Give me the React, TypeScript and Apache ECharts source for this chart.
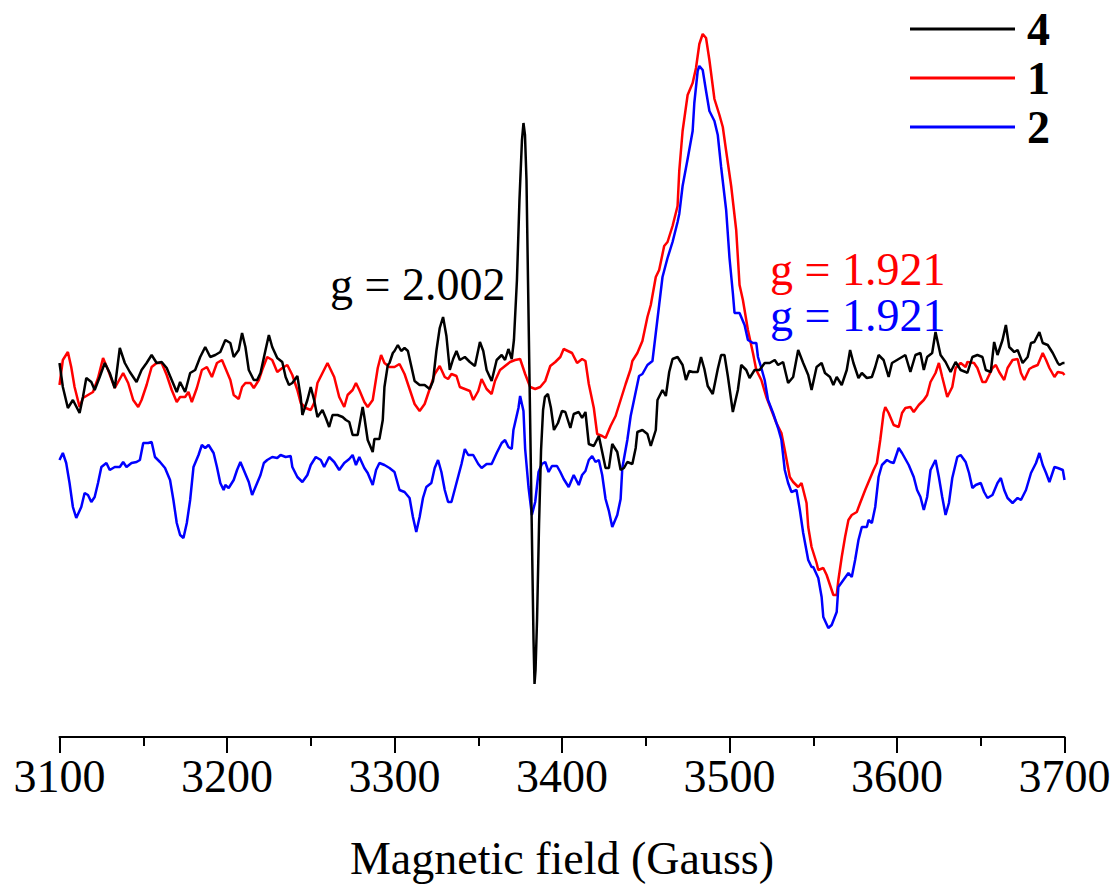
import React, { useEffect, useRef } from "react";
import * as echarts from "echarts";

// EPR spectra: [magnetic field (Gauss), intensity (arb. units)]
const curve4: [number, number][] = [
  [3100,374],[3102,350],[3105,329],[3108,337],[3112,324],[3114,340],[3116,359],[3119,355],[3121,347],[3124,360],
  [3127,374],[3130,364],[3133,349],[3136,389],[3139,374],[3142,365],[3146,355],[3149,367],[3152,374],[3155,382],
  [3158,374],[3161,375],[3164,369],[3167,357],[3170,345],[3172,355],[3175,345],[3178,364],[3181,367],[3184,380],
  [3187,390],[3190,380],[3193,382],[3196,385],[3199,397],
  [3202,394],[3204,380],[3207,387],[3209,404],[3211,390],[3213,367],[3216,357],[3218,357],[3220,364],[3223,387],
  [3225,402],[3227,390],[3230,379],[3233,375],[3235,360],[3237,352],[3239,354],[3242,361],[3244,340],[3245,322],
  [3248,337],[3250,350],[3252,337],[3254,320],[3257,327],[3259,319],[3261,310],[3263,322],[3266,322],[3269,320],
  [3271,317],[3273,315],[3275,302],[3278,302],[3281,330],[3282,320],[3284,297],[3287,285],[3288,298],[3291,298],
  [3293,317],[3294,350],[3296,372],[3297,374],[3299,384],
  [3300,386],[3302,392],[3304,386],[3306,389],[3308,386],[3310,371],[3312,356],[3315,352],[3318,352],[3321,348],
  [3323,356],[3325,386],[3327,409],[3329,420],[3331,401],[3333,367],[3335,378],[3337,386],[3339,377],[3342,380],
  [3345,375],[3348,371],[3351,395],[3353,386],[3355,367],[3358,356],[3361,377],[3364,382],[3366,377],[3368,388],
  [3370,378],
  [3371.3,397],[3373.1,457],[3374.6,537],[3376.1,597],[3377.0,614],[3377.9,602],[3378.8,557],[3379.7,457],
  [3380.9,326],[3382.1,194],[3383.0,97],[3383.6,53],[3384.2,67],[3385.1,117],[3386.3,213],[3387.5,287],
  [3388.7,327],[3389.8,340],[3391.6,343],[3393.4,329],[3395.2,307],[3397.6,314],[3400.0,326],
  [3402,325],[3405,309],[3407,323],[3410,325],[3412,319],[3414,325],[3416,293],[3419,291],[3422,301],[3424,285],
  [3426,269],[3428,269],[3430,293],[3433,285],[3435,267],[3437,269],[3439,275],[3442,273],[3444,289],[3445,305],
  [3448,307],[3451,303],[3453,291],[3456,307],[3457,337],[3460,347],[3462,341],[3464,365],[3466,378],[3469,380],
  [3472,372],[3474,357],[3476,366],[3478,365],[3481,365],[3483,380],[3485,368],[3487,351],[3490,343],[3493,368],
  [3495,382],[3497,382],[3499,361],[3502,325],
  [3505,347],[3507,372],[3510,367],[3512,359],[3515,367],[3518,367],[3521,374],[3524,374],[3527,377],[3529,372],
  [3532,375],[3535,354],[3538,360],[3541,387],[3544,374],[3547,362],[3549,347],[3552,370],[3555,374],[3557,364],
  [3560,360],[3562,352],[3564,360],[3567,352],[3570,367],[3572,387],[3574,374],[3577,359],[3579,364],[3582,359],
  [3585,360],[3587,370],[3589,382],[3592,377],[3595,360],[3597,374],[3600,377],
  [3605,382],[3608,365],[3611,382],[3614,384],[3616,367],[3618,380],[3621,384],[3623,405],[3626,382],[3629,375],
  [3632,365],[3635,375],[3638,367],[3641,365],[3642,364],[3645,380],[3648,382],[3651,380],[3653,367],[3656,365],
  [3658,395],[3660,382],[3663,397],[3665,412],[3667,390],[3670,385],[3672,387],[3675,374],[3678,380],[3680,394],
  [3682,395],[3685,405],[3687,394],[3690,392],[3693,384],[3696,374],[3697,372],[3699,374],[3700,374]
];

const curve1: [number, number][] = [
  [3100,352],[3102,377],[3105,385],[3107,370],[3109,350],[3112,330],[3114,339],[3117,342],[3120,345],[3123,359],
  [3126,379],[3129,367],[3133,349],[3135,355],[3138,364],[3141,354],[3144,337],[3147,330],[3149,337],[3152,352],
  [3155,370],[3158,374],[3161,374],[3164,362],[3167,347],[3170,335],[3172,340],[3175,340],[3177,345],[3179,335],
  [3182,349],[3185,367],[3188,370],[3191,360],[3194,374],[3197,377],[3199,369],
  [3202,357],[3204,342],[3207,338],[3209,350],[3211,354],[3214,354],[3216,349],[3219,357],[3221,367],[3224,380],
  [3227,377],[3230,365],[3233,369],[3236,372],[3239,362],[3242,347],[3244,334],[3247,329],[3250,327],[3252,334],
  [3254,354],[3257,364],[3260,374],[3262,367],[3264,360],[3267,340],[3270,330],[3272,342],[3275,347],[3277,354],
  [3279,347],[3282,335],[3284,330],[3287,337],[3290,369],[3292,382],[3294,374],[3297,370],[3300,370],
  [3303,373],[3306,363],[3309,348],[3312,333],[3315,326],[3318,333],[3321,348],[3324,363],[3327,371],[3330,360],
  [3332,358],[3334,363],[3337,361],[3339,350],[3342,348],[3345,346],[3347,337],[3350,346],[3352,358],[3355,348],
  [3358,343],[3360,356],[3363,367],[3366,371],[3369,375],[3372,377],[3375,378],[3378,363],[3381,350],[3384,348],
  [3387,350],[3390,356],[3393,371],[3396,375],[3399,380],[3401,388],
  [3406,384],[3409,374],[3412,378],[3414,376],[3416,353],[3419,329],[3421,303],[3424,301],[3426,299],[3429,311],
  [3432,321],[3435,337],[3438,353],[3441,368],[3442,376],[3445,384],[3448,396],[3451,420],[3453,432],[3456,460],
  [3458,467],[3461,491],[3463,495],[3466,511],[3469,531],[3470,566],[3472,606],[3475,642],[3478,654],[3480,669],
  [3482,693],[3484,703],[3486,699],[3488,677],[3491,638],[3494,622],[3496,610],[3498,586],[3501,551],[3504,507],
  [3506,452],[3508,437],[3511,407],
  [3514,384],[3516,367],[3519,357],[3522,340],[3525,327],[3528,314],[3531,304],[3533,287],[3536,260],[3538,255],
  [3541,250],[3543,254],[3546,234],[3547,210],[3549,190],[3552,174],[3553,167],[3556,169],[3558,162],[3560,152],
  [3562,142],[3564,142],[3565,157],[3567,180],[3569,200],[3571,217],[3573,222],[3576,225],[3578,234],[3581,247],
  [3583,255],[3586,267],[3588,274],[3590,297],[3592,324],[3593,330],[3595,324],[3598,312],[3601,310],[3603,324],
  [3605,329],
  [3608,330],[3610,325],[3613,332],[3616,337],[3618,342],[3620,355],[3623,364],[3625,374],[3627,360],[3630,340],
  [3633,350],[3635,369],[3638,374],[3641,370],[3642,375],[3646,374],[3648,369],[3651,355],[3653,355],[3657,369],
  [3659,372],[3661,365],[3664,357],[3666,369],[3669,377],[3672,378],[3674,364],[3676,357],[3679,368],[3681,370],
  [3684,372],[3687,384],[3689,377],[3691,369],[3694,360],[3696,365],[3699,364],[3700,362]
];

const curve2: [number, number][] = [
  [3100,277],[3102,284],[3104,274],[3106,254],[3108,230],[3110,219],[3113,230],[3115,244],[3117,242],[3119,235],
  [3121,240],[3123,254],[3125,270],[3128,274],[3130,267],[3133,270],[3136,270],[3138,275],[3140,270],[3143,274],
  [3146,275],[3148,277],[3150,294],[3153,294],[3155,295],[3157,280],[3160,275],[3163,269],[3166,257],[3168,237],
  [3170,214],[3172,202],[3174,199],[3176,214],[3178,237],[3180,270],[3183,282],[3185,292],[3187,289],[3189,292],
  [3192,284],[3194,270],[3196,254],[3198,247],
  [3199,252],[3201,249],[3204,257],[3206,267],[3208,275],[3210,267],[3213,255],[3215,242],[3218,254],[3220,262],
  [3222,274],[3224,277],[3227,280],[3230,279],[3232,282],[3235,280],[3238,281],[3239,270],[3242,260],[3245,255],
  [3248,262],[3250,272],[3253,280],[3256,277],[3258,270],[3261,280],[3264,275],[3267,267],[3270,274],[3273,278],
  [3275,282],[3277,272],[3279,280],[3282,269],[3284,264],[3287,252],[3289,267],[3291,274],[3294,272],[3297,269],
  [3300,265],
  [3303,247],[3306,245],[3309,239],[3311,220],[3313,205],[3315,220],[3317,239],[3319,250],[3322,254],[3324,269],
  [3326,277],[3328,265],[3330,247],[3332,235],[3334,235],[3337,254],[3340,273],[3342,288],[3344,282],[3347,282],
  [3350,273],[3352,269],[3355,273],[3358,273],[3361,284],[3364,294],[3366,297],[3368,290],[3370,288],[3371,307],
  [3374,329],[3375,341],[3377,326],[3378,288],[3380,250],[3382,222],[3384,235],[3386,265],[3388,273],[3390,275],
  [3392,265],[3394,271],[3397,271],[3399,265],[3401,258],
  [3404,250],[3407,262],[3410,252],[3412,262],[3414,266],[3416,277],[3418,281],[3420,275],[3422,277],[3424,262],
  [3426,238],[3428,226],[3430,210],[3433,222],[3435,238],[3436,269],[3439,297],[3441,321],[3443,337],[3446,361],
  [3448,363],[3451,372],[3454,376],[3456,404],[3458,432],[3460,460],[3463,479],[3466,495],[3469,515],[3470,523],
  [3472,551],[3475,578],[3478,606],[3479,634],[3481,666],[3482,671],[3484,667],[3486,646],[3488,626],[3491,616],
  [3493,602],[3495,570],[3498,527],[3500,479],[3502,444],[3503,424],[3506,424],[3509,412],[3511,397],[3514,394],
  [3516,394],[3517,380],[3519,369],[3521,357],[3523,337],[3526,324],[3529,309],[3531,297],[3533,267],[3535,254],
  [3537,245],[3540,247],[3542,227],[3544,204],[3547,177],[3549,170],[3550,170],[3553,159],[3555,140],[3556,120],
  [3559,109],[3561,112],[3564,125],[3565,150],[3568,157],[3571,164],[3573,160],[3575,177],[3577,197],[3579,210],
  [3582,210],[3583,217],[3585,214],[3587,230],[3589,260],[3591,272],[3594,277],[3596,275],[3598,274],[3601,289],
  [3603,284],
  [3607,272],[3610,260],[3612,247],[3614,240],[3616,227],[3618,240],[3620,267],[3623,277],[3625,260],[3627,240],
  [3629,222],[3631,234],[3633,259],[3636,280],[3638,282],[3641,275],[3643,264],[3645,249],[3647,252],[3650,254],
  [3652,245],[3654,239],[3657,242],[3660,254],[3662,259],[3664,247],[3666,239],[3669,234],[3672,239],[3674,237],
  [3677,247],[3680,264],[3683,274],[3685,284],[3687,272],[3689,264],[3691,255],[3694,270],[3696,269],[3699,267],
  [3700,257]
];

const seriesNames = ["4", "1", "2"];
const seriesColors = ["#000000", "#ff0000", "#0000ff"];
const annotations = [
  { text: "g = 2.002", color: "#000000" },
  { text: "g = 1.921", color: "#ff0000" },
  { text: "g = 1.921", color: "#0000ff" },
];
const xTicks = { min: 3100, max: 3700, interval: 100 };
const yRange = { min: 0, max: 717 };

const FONT = '"Liberation Serif", "Times New Roman", serif';

export default function App() {
  const ref = useRef<HTMLDivElement>(null);
  useEffect(() => {
    if (!ref.current) return;
    const chart = echarts.init(ref.current, undefined, { renderer: "svg" });
    const curves = [curve4, curve1, curve2];
    // draw red, blue first, black on top
    const order = [1, 2, 0];
    const annoStyle = (i: number) => ({
      text: annotations[i].text,
      fill: annotations[i].color,
      fontFamily: FONT,
      fontSize: 46,
      lineHeight: 42,
    });
    chart.setOption({
      animation: false,
      backgroundColor: "#ffffff",
      grid: { left: 59.5, right: 50.5, top: 20, bottom: 149, containLabel: false },
      legend: {
        orient: "vertical",
        left: 905,
        top: 0,
        data: seriesNames,
        icon: "rect",
        itemWidth: 105,
        itemHeight: 3,
        itemGap: 1,
        textStyle: {
          fontFamily: FONT,
          fontSize: 46,
          fontWeight: "bold",
          color: "#000",
          lineHeight: 48,
          padding: [0, 0, 0, 7],
        },
      },
      xAxis: {
        type: "value",
        min: xTicks.min,
        max: xTicks.max,
        interval: xTicks.interval,
        name: "Magnetic field (Gauss)",
        nameLocation: "middle",
        nameGap: 98,
        nameTextStyle: { fontFamily: FONT, fontSize: 46, color: "#000" },
        axisLine: { show: true, lineStyle: { color: "#000", width: 2 } },
        axisTick: { show: true, inside: false, length: 16, lineStyle: { color: "#000", width: 2 } },
        minorTick: { show: true, splitNumber: 2, length: 9, lineStyle: { color: "#000", width: 2 } },
        axisLabel: {
          fontFamily: FONT,
          fontSize: 46,
          color: "#000",
          margin: 16,
          formatter: (v: number) => String(v),
        },
        splitLine: { show: false },
      },
      yAxis: {
        type: "value",
        min: yRange.min,
        max: yRange.max,
        show: false,
        splitLine: { show: false },
      },
      series: order.map((i) => ({
        name: seriesNames[i],
        type: "line",
        data: curves[i],
        showSymbol: false,
        symbol: "none",
        lineStyle: { color: seriesColors[i], width: 2.5 },
        itemStyle: { color: seriesColors[i] },
        z: i === 0 ? 3 : 2,
      })),
      graphic: [
        { type: "text", left: 330, top: 261, style: annoStyle(0) },
        { type: "text", left: 770, top: 246, style: annoStyle(1) },
        { type: "text", left: 770, top: 292, style: annoStyle(2) },
      ],
    });
    return () => chart.dispose();
  }, []);
  return <div ref={ref} style={{ position: "absolute", left: 0, top: 0, width: 1115, height: 886 }} />;
}
